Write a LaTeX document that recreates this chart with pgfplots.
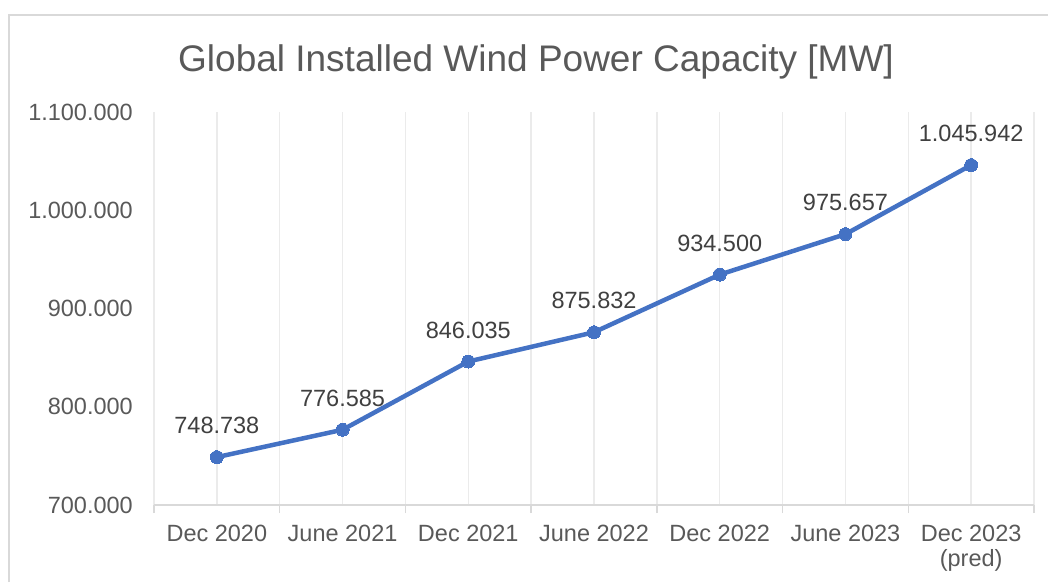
\documentclass[border=0pt]{standalone}
\usepackage{fontspec}
\setmainfont{Liberation Sans}
\usepackage{pgfplots}
\pgfplotsset{compat=1.18}
\definecolor{linecol}{HTML}{4472C4}
\definecolor{ticktext}{HTML}{595959}
\definecolor{labeltext}{HTML}{404040}
\definecolor{gridcol}{HTML}{EBEBEB}
\definecolor{axiscol}{HTML}{D9D9D9}
\begin{document}
\begin{tikzpicture}[x=1pt,y=1pt]
\useasboundingbox (0,0) rectangle (1048,582);
\draw[axiscol, line width=2pt] (9,0) -- (9,567) -- (1048,567);
\node[anchor=base, text=ticktext, font=\fontsize{37}{44}\selectfont, inner sep=0pt] at (536,510) {Global Installed Wind Power Capacity [MW]};
\begin{axis}[
  at={(154pt,77pt)}, anchor=south west,
  scale only axis, width=880pt, height=393pt,
  xmin=-0.5, xmax=6.5, ymin=700000, ymax=1100000,
  clip=false,
  axis x line*=bottom, axis y line*=left,
  x axis line style={axiscol, line width=2pt, -},
  y axis line style={draw=none},
  xtick={0,1,2,3,4,5,6},
  xticklabels={Dec 2020, June 2021, Dec 2021, June 2022, Dec 2022, June 2023, {Dec 2023\\(pred)}},
  minor xtick={-0.5,0.5,1.5,2.5,3.5,4.5,5.5,6.5},
  major tick length=0pt, minor tick length=8pt, tick align=outside,
  minor tick style={axiscol, line width=1.5pt},
  ytick={700000,800000,900000,1000000,1100000},
  ytick style={draw=none},
  xmajorgrids, xminorgrids,
  major grid style={gridcol, line width=1.5pt},
  minor grid style={gridcol, line width=1.5pt},
  yticklabel style={anchor=east, inner sep=0pt, xshift=-21pt, text=ticktext, font=\fontsize{23.5}{28}\selectfont},
  xticklabel style={anchor=north, inner sep=0pt, yshift=-20pt, align=center, text=ticktext, font=\fontsize{23.5}{25}\selectfont},
  /pgf/number format/.cd, fixed, precision=0, 1000 sep={.}, assume math mode=true,
  /pgfplots/.cd,
  scaled y ticks=false,
  nodes near coords, point meta=explicit symbolic,
  every node near coord/.append style={anchor=base, inner sep=0pt, yshift=23.5pt, text=labeltext, font=\fontsize{23.5}{28}\selectfont},
]
\addplot[color=linecol, line width=4.5pt, mark=*, mark size=6.5pt, mark options={solid, fill=linecol, draw=linecol, line width=0pt}]
coordinates {
(0,748738)[748.738]
(1,776585)[776.585]
(2,846035)[846.035]
(3,875832)[875.832]
(4,934500)[934.500]
(5,975657)[975.657]
(6,1045942)[1.045.942]
};
\end{axis}
\end{tikzpicture}
\end{document}
